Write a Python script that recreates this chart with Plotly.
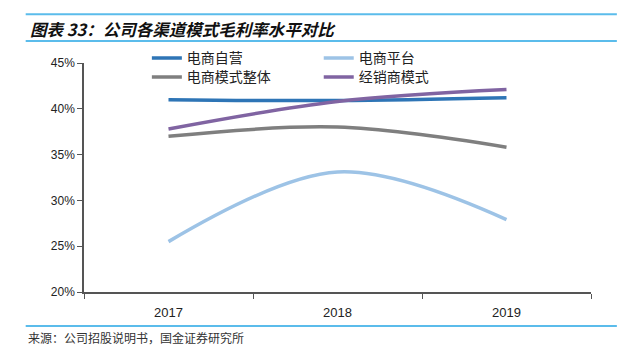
import plotly.graph_objects as go

years = ["2017", "2018", "2019"]
self_run = [0.410, 0.409, 0.412]      # 电商自营
platform = [0.255, 0.331, 0.279]      # 电商平台
ecom_total = [0.370, 0.380, 0.358]    # 电商模式整体
dealer = [0.378, 0.408, 0.421]        # 经销商模式

names = ["电商自营", "电商平台", "电商模式整体", "经销商模式"]
colors = ["#2E75B6", "#9DC3E6", "#7F7F7F", "#8064A2"]
series = [self_run, platform, ecom_total, dealer]
legend_ids = ["legend", "legend2", "legend3", "legend4"]

fig = go.Figure()
for n, c, s, lg in zip(names, colors, series, legend_ids):
    fig.add_trace(go.Scatter(x=years, y=s, name=n, mode="lines",
                             line=dict(color=c, width=3.5, shape="spline", smoothing=1.0),
                             legend=lg))

legend_common = dict(orientation="h", xref="paper", yref="paper", xanchor="left", yanchor="middle",
                     bgcolor="rgba(0,0,0,0)",
                     font=dict(family="Noto Sans CJK SC", size=14, color="#222"),
                     itemwidth=30)

c1, c2 = 0.124, 0.463
r1, r2 = 1.02, 0.937
fig.update_layout(
    width=617, height=352,
    margin=dict(l=84, r=26, t=63, b=60),
    paper_bgcolor="white", plot_bgcolor="white",
    showlegend=True,
    legend=dict(x=c1, y=r1, **legend_common),
    legend2=dict(x=c2, y=r1, **legend_common),
    legend3=dict(x=c1, y=r2, **legend_common),
    legend4=dict(x=c2, y=r2, **legend_common),
    xaxis=dict(type="category", range=[-0.5, 2.5], tickson="boundaries", ticks="outside",
               ticklen=5, tickcolor="#555", showline=True, linecolor="#555", linewidth=1.5,
               showgrid=False, ticklabelstandoff=8,
               tickfont=dict(family="Arial", size=13, color="#222")),
    yaxis=dict(range=[0.20, 0.45], tick0=0.20, dtick=0.05, tickformat=".0%", ticks="outside",
               ticklen=5, tickcolor="#555", showline=True, linecolor="#555", linewidth=1.5,
               showgrid=False, zeroline=False, tickfont=dict(family="Arial", size=12, color="#222")),
    shapes=[
        dict(type="line", xref="paper", yref="paper", x0=-0.115, x1=1.051, y0=1.213, y1=1.213,
             line=dict(color="#5BBCEB", width=2)),
        dict(type="line", xref="paper", yref="paper", x0=-0.115, x1=1.051, y0=1.096, y1=1.096,
             line=dict(color="#5BBCEB", width=2)),
        dict(type="line", xref="paper", yref="paper", x0=-0.115, x1=1.051, y0=-0.148, y1=-0.148,
             line=dict(color="#5BBCEB", width=2)),
    ],
    annotations=[
        dict(text="<b><i>图表 33：公司各渠道模式毛利率水平对比</i></b>", xref="paper", yref="paper",
             x=-0.11, y=1.148, xanchor="left", yanchor="middle", showarrow=False,
             font=dict(family="Noto Sans CJK SC", size=16.5, color="#111")),
        dict(text="来源：公司招股说明书，国金证券研究所", xref="paper", yref="paper",
             x=-0.115, y=-0.2, xanchor="left", yanchor="middle", showarrow=False,
             font=dict(family="Noto Sans CJK SC", size=12, color="#333")),
    ],
)

fig.write_html("out.html")
